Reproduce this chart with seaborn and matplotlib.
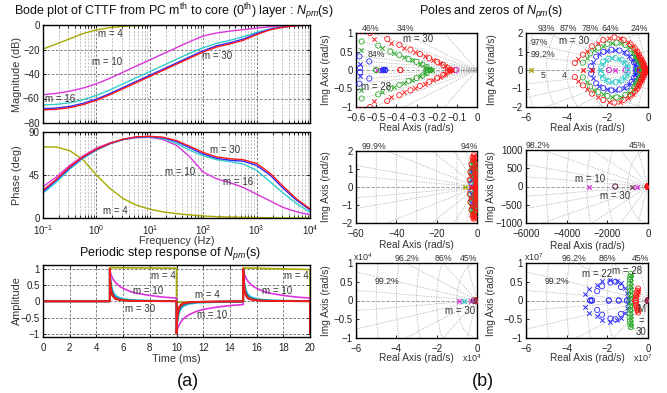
import numpy as np
import pandas as pd
import matplotlib
matplotlib.use("Agg")
import matplotlib.pyplot as plt
import seaborn as sns
from matplotlib.ticker import LogLocator, NullFormatter

# ---------------- data: Bode plot ----------------
freq_hz = [0.1, 0.178, 0.316, 0.562, 1, 1.78, 3.16, 5.62, 10, 17.8, 31.6, 56.2,
           100, 178, 316, 562, 1000, 1780, 3160, 5620, 10000]
mag_m4 = [-19.6, -15.5, -11.3, -7.0, -4.0, -2.2, -1.1, -0.5, -0.2, -0.1, 0, 0,
          0, 0, 0, 0, 0, 0, 0, 0, 0]
mag_m10 = [-56.9, -55.8, -54.0, -51.5, -48.0, -43.5, -38.5, -33.5, -28.5, -23.5, -18.5,
           -13.5, -9.0, -6.5, -5.0, -3.8, -2.5, -1.5, -0.8, -0.3, 0]
mag_m16 = [-65.3, -64.8, -63.5, -61.0, -57.5, -53.0, -48.0, -43.0, -38.0, -33.0, -28.0,
           -23.0, -18.5, -15.0, -12.5, -9.5, -6.0, -3.2, -1.5, -0.5, 0]
mag_m22 = [-68.3, -67.8, -66.5, -64.0, -60.5, -56.0, -51.0, -46.0, -41.0, -36.0, -31.0,
           -26.0, -21.0, -17.0, -14.5, -11.5, -7.0, -3.6, -1.6, -0.5, 0]
mag_m30 = [-69.3, -68.8, -67.5, -65.0, -61.5, -57.0, -52.0, -47.0, -42.0, -37.0, -32.0,
           -27.0, -22.0, -18.0, -15.5, -12.5, -7.8, -4.0, -1.8, -0.6, 0]
ph_m4 = [74.4, 74.3, 70.5, 61.0, 45.0, 31.0, 20.4, 13.4, 9.2, 6.3, 4.6, 3.2,
         2.1, 1.4, 1.0, 0.7, 0.4, 0.2, 0.1, 0.05, 0]
ph_m10 = [32.7, 43.0, 55.0, 65.0, 73.0, 78.5, 82.0, 84.0, 84.5, 82.0, 76.0, 64.0,
          48.0, 41.0, 37.0, 32.0, 25.0, 18.0, 11.0, 6.5, 3.5]
ph_m16 = [26.0, 37.5, 51.0, 62.5, 71.0, 77.5, 82.0, 84.5, 85.0, 83.0, 78.0, 71.0,
          65.0, 61.0, 59.0, 56.5, 50.0, 38.0, 26.0, 15.0, 6.0]
ph_m22 = [27.5, 39.5, 52.5, 63.5, 71.5, 77.8, 82.3, 84.8, 85.3, 84.0, 80.0, 73.5,
          67.0, 62.5, 60.5, 59.5, 55.0, 45.0, 31.0, 18.5, 8.5]
ph_m30 = [29.0, 40.5, 53.5, 64.0, 72.0, 78.0, 82.5, 85.0, 85.5, 84.5, 81.0, 75.0,
          68.5, 64.0, 62.0, 61.0, 57.0, 47.0, 33.0, 20.0, 9.5]

# ---------------- data: periodic step response ----------------
step_times_ms = [5, 10, 15]
step_signs = [1, -1, 1]
decay_offsets_ms = [0, 0.05, 0.1, 0.2, 0.35, 0.5, 0.75, 1, 1.5, 2, 3, 4, 5]
decay_m10 = [1, 0.9, 0.82, 0.72, 0.62, 0.55, 0.46, 0.4, 0.31, 0.25, 0.18, 0.13, 0.1]
decay_m16 = [1, 0.75, 0.55, 0.35, 0.22, 0.16, 0.11, 0.08, 0.05, 0.04, 0.025, 0.015, 0.01]
decay_m22 = [1, 0.65, 0.45, 0.27, 0.16, 0.11, 0.07, 0.05, 0.03, 0.02, 0.012, 0.008, 0.005]
decay_m28 = [1, 0.6, 0.4, 0.23, 0.13, 0.09, 0.06, 0.04, 0.025, 0.015, 0.01, 0.005, 0.003]
decay_m30 = [1, 0.55, 0.35, 0.2, 0.11, 0.07, 0.045, 0.03, 0.02, 0.012, 0.006, 0.003, 0.002]
decay_m29 = [1, 0.5, 0.3, 0.17, 0.09, 0.06, 0.04, 0.025, 0.015, 0.01, 0.005, 0.002, 0.001]
olive_t_ms = [0, 5, 5, 10, 10, 15, 15, 20, 20]
olive_amp = [0, 0, 1.04, 1.02, -0.03, -0.02, 1.03, 0.98, 0]

# ---------------- data: poles (x) and zeros (o), upper half-plane ----------------
red_zero_re = [-0.53, -0.445, -0.385, -0.33, -0.283, -0.237, -0.197, -0.167, -0.145, -0.38, -0.13,
               -3.6, -3.2, -2.75, -2.2, -1.65, -1.2, -0.85, -0.65,
               -0.62e7, -0.6e7, -0.58e7, -0.55e7, -0.52e7, -0.49e7]
red_zero_im = [1.0, 0.84, 0.68, 0.55, 0.43, 0.32, 0.22, 0.13, 0.05, 0, 0,
               0.38, 0.83, 1.28, 1.62, 1.76, 1.62, 1.38, 1.17,
               0.0, 0.06e7, 0.13e7, 0.2e7, 0.26e7, 0.32e7]
red_pole_re = [-0.51, -0.425, -0.36, -0.305, -0.26, -0.22, -0.185, -0.16, -0.14, -0.135, -0.125,
               -3.45, -3.0, -2.45, -1.9, -1.4, -1.0, -0.72, -0.58, -3.2, -2.75,
               -0.57e7, -0.54e7, -0.51e7, -0.48e7]
red_pole_im = [0.84, 0.74, 0.6, 0.48, 0.37, 0.27, 0.18, 0.1, 0.03, 0, 0,
               0.6, 1.05, 1.48, 1.72, 1.72, 1.5, 1.28, 1.05, 0, 0,
               0.1e7, 0.17e7, 0.23e7, 0.29e7]
green_zero_re = [-0.572, -0.49, -0.43, -0.385, -0.34, -0.3, -0.27, -0.25, -0.23, -0.245, -0.5,
                 -3.2, -2.85, -2.45, -2.0, -1.55, -1.12, -0.82, -0.66,
                 -0.86e7, -0.87e7, -0.88e7, -0.9e7, -0.9e7, -0.89e7, -0.87e7, -0.85e7]
green_zero_im = [0.77, 0.66, 0.5, 0.4, 0.3, 0.22, 0.15, 0.08, 0, 0, 0,
                 0.4, 0.9, 1.2, 1.4, 1.48, 1.35, 1.12, 0.9,
                 0.05e7, 0.15e7, 0.25e7, 0.35e7, 0.45e7, 0.55e7, 0.63e7, 0.71e7]
green_pole_re = [-0.577, -0.47, -0.41, -0.36, -0.32, -0.285, -0.26, -0.225, -0.24,
                 -3.0, -2.65, -2.22, -1.78, -1.32, -0.95, -0.72, -0.63,
                 -0.82e7, -0.83e7, -0.84e7, -0.85e7, -0.85e7, -0.84e7, -0.82e7]
green_pole_im = [0.53, 0.6, 0.46, 0.35, 0.26, 0.17, 0.09, 0, 0,
                 0.65, 1.06, 1.32, 1.46, 1.44, 1.25, 1.0, 0.78,
                 0.1e7, 0.2e7, 0.3e7, 0.4e7, 0.5e7, 0.6e7, 0.68e7]
blue_zero_re = [-0.583, -0.534, -0.58, -0.465, -0.455,
                -2.8, -2.55, -2.2, -1.8, -1.4, -1.05, -0.8, -0.68,
                -2.84e7, -2.75e7, -1.93e7, -1.44e7, -1.03e7, -2.26e7, -1.85e7, -1.6e7, -1.33e7, -2.5e7]
blue_zero_im = [0.37, 0.23, 0.06, 0, 0,
                0.2, 0.72, 0.98, 1.1, 1.05, 0.9, 0.65, 0.4,
                0, 0, 0, 0, 0, 0.38e7, 0.48e7, 0.5e7, 0.36e7, 0.25e7]
blue_pole_re = [-0.58, -0.47, -0.46,
                -2.7, -2.4, -2.0, -1.6, -1.2, -0.92, -0.72, -0.63, -2.75,
                -3.11e7, -2.9e7, -2.51e7, -2.26e7, -1.85e7, -1.52e7, -1.31e7, -1.11e7, -1.03e7, -1.0e7]
blue_pole_im = [0.17, 0, 0,
                0.45, 0.87, 1.05, 1.1, 0.98, 0.78, 0.52, 0.25, 0,
                0.18e7, 0.32e7, 0.42e7, 0.51e7, 0.56e7, 0.53e7, 0.47e7, 0.33e7, 0.2e7, 0.07e7]
cyan_zero_re = [-2.3, -2.2, -1.95, -1.6, -1.3, -1.1, -1.0]
cyan_zero_im = [0.2, 0.45, 0.6, 0.65, 0.55, 0.35, 0.12]
cyan_pole_re = [-2.25, -2.05, -1.75, -1.45, -1.2, -1.05, -2.35, -6600]
cyan_pole_im = [0.32, 0.55, 0.63, 0.62, 0.45, 0.22, 0, 0]
magenta_zero_re = [-0.105, -1.92, -1.1]
magenta_zero_im = [0, 0, 0]
magenta_pole_re = [-0.495, -1.6, -2893, -542, -9100]
magenta_pole_im = [0, 0, 0, 0, 0]
olive_pole_re = [-5.75]
olive_pole_im = [0]
dark_zero_re = [-1611]
dark_zero_im = [0]
dark_pole_re = [-789]
dark_pole_im = [0]

# ---------------- styling ----------------
sns.set_theme(style="ticks")
plt.rcParams["font.family"] = ["Liberation Sans", "DejaVu Sans"]
plt.rcParams["mathtext.fontset"] = "custom"
plt.rcParams["mathtext.rm"] = "Liberation Sans"
plt.rcParams["mathtext.it"] = "Liberation Sans:italic"
plt.rcParams["axes.unicode_minus"] = True

C_OLIVE = "#a8a800"
C_MAG = "#dd33dd"
C_CYAN = "#33cccc"
C_BLUE = "#2b2bff"
C_GREEN = "#2ea82e"
C_RED = "#ff1a1a"
C_DRED = "#a01010"
C_DARK = "#7a3a62"
TXT = "#333333"
TICK_FS = 7
LAB_FS = 7.8

W, H = 667, 393
fig = plt.figure(figsize=(W / 100, H / 100), dpi=100)


def rect(l, t, r, b):
    return [l / W, 1 - b / H, (r - l) / W, (b - t) / H]


def frame(ax, ls=TICK_FS):
    for s in ax.spines.values():
        s.set_linewidth(1.0)
        s.set_color("black")
    ax.tick_params(which="both", direction="in", length=2.5, width=0.6, labelsize=ls,
                   pad=2.5, top=True, right=True, colors="black", labelcolor="#222222")
    ax.tick_params(axis="x", which="both", pad=4)


GRID_MAJ = dict(ls=(0, (3, 2)), color="#6a6a6a", lw=0.6)
GRID_MIN = dict(ls=(0, (3, 2)), color="#a8a8a8", lw=0.5)

order = ["m4", "m10", "m16", "m22", "m30"]
pal = {"m4": C_OLIVE, "m10": C_MAG, "m16": C_CYAN, "m22": C_BLUE, "m30": C_RED}

mag_df = pd.concat([pd.DataFrame({"f": freq_hz, "v": v, "m": k}) for k, v in
                    zip(order, [mag_m4, mag_m10, mag_m16, mag_m22, mag_m30])])
ph_df = pd.concat([pd.DataFrame({"f": freq_hz, "v": v, "m": k}) for k, v in
                   zip(order, [ph_m4, ph_m10, ph_m16, ph_m22, ph_m30])])

# ---- magnitude ----
ax_mag = fig.add_axes(rect(43, 25, 310, 123))
sns.lineplot(data=mag_df, x="f", y="v", hue="m", hue_order=order, palette=pal,
             estimator=None, sort=False, legend=False, lw=1.0, ax=ax_mag)
ax_mag.set_xscale("log")
ax_mag.set_xlim(0.1, 1e4)
ax_mag.set_ylim(-80, 0)
ax_mag.set_yticks([-80, -60, -40, -20, 0])
ax_mag.xaxis.set_minor_locator(LogLocator(subs=np.arange(2, 10)))
ax_mag.xaxis.set_major_formatter(NullFormatter())
ax_mag.xaxis.set_minor_formatter(NullFormatter())
ax_mag.grid(which="major", **GRID_MAJ)
ax_mag.grid(which="minor", axis="x", **GRID_MIN)
ax_mag.set_xlabel("")
ax_mag.set_ylabel("Magnitude (dB)", fontsize=LAB_FS, color=TXT)
ax_mag.yaxis.set_label_coords(-0.08, 0.5)
frame(ax_mag)
for txt, x, y in [("m = 4", 1.8, -7.3), ("m = 10", 1.57, -30.5),
                  ("m = 16", 0.21, -60.4), ("m = 30", 178, -25)]:
    ax_mag.text(x, y, txt, fontsize=7, color=TXT, ha="center", va="center")

# ---- phase ----
ax_ph = fig.add_axes(rect(43, 132, 310, 218))
sns.lineplot(data=ph_df, x="f", y="v", hue="m", hue_order=order, palette=pal,
             estimator=None, sort=False, legend=False, lw=1.0, ax=ax_ph)
ax_ph.set_xscale("log")
ax_ph.set_xlim(0.1, 1e4)
ax_ph.set_ylim(0, 90)
ax_ph.set_yticks([0, 45, 90])
ax_ph.xaxis.set_minor_locator(LogLocator(subs=np.arange(2, 10)))
ax_ph.xaxis.set_minor_formatter(NullFormatter())
ax_ph.grid(which="major", **GRID_MAJ)
ax_ph.grid(which="minor", axis="x", **GRID_MIN)
ax_ph.set_ylabel("Phase (deg)", fontsize=LAB_FS, color=TXT)
ax_ph.yaxis.set_label_coords(-0.08, 0.5)
ax_ph.set_xlabel("Frequency (Hz)", fontsize=LAB_FS, color=TXT)
ax_ph.xaxis.set_label_coords(0.5, -0.21)
frame(ax_ph)
for txt, x, y in [("m = 30", 257, 71.5), ("m = 10", 37, 48.6),
                  ("m = 16", 457, 37.3), ("m = 4", 2.25, 7)]:
    ax_ph.text(x, y, txt, fontsize=7, color=TXT, ha="center", va="center")

# ---- periodic step response ----
def build_pulse(profile):
    t = [0.0, step_times_ms[0]]
    y = [0.0, 0.0]
    for start, sgn in zip(step_times_ms, step_signs):
        t += [start + o for o in decay_offsets_ms]
        y += [sgn * v for v in profile]
    t += [20.0]
    y += [-1.0]
    return t, y


step_frames = [pd.DataFrame({"t": olive_t_ms, "a": olive_amp, "m": "m4"})]
step_order = ["m4", "m10", "m16", "m22", "m28", "m29", "m30"]
step_pal = {"m4": C_OLIVE, "m10": C_MAG, "m16": C_CYAN, "m22": C_BLUE,
            "m28": C_GREEN, "m29": C_DRED, "m30": C_RED}
for k, prof in zip(step_order[1:], [decay_m10, decay_m16, decay_m22, decay_m28,
                                     decay_m29, decay_m30]):
    tt, yy = build_pulse(prof)
    step_frames.append(pd.DataFrame({"t": tt, "a": yy, "m": k}))
step_df = pd.concat(step_frames)

ax_st = fig.add_axes(rect(43, 265, 310, 337))
sns.lineplot(data=step_df, x="t", y="a", hue="m", hue_order=step_order, palette=step_pal,
             estimator=None, sort=False, legend=False, lw=1.2, ax=ax_st)
ax_st.set_xlim(0, 20)
ax_st.set_ylim(-1.1, 1.12)
ax_st.set_xticks(range(0, 21, 2))
ax_st.set_yticks([-1, -0.5, 0, 0.5, 1])
ax_st.set_yticklabels(["\u22121", "\u22120.5", "0", "0.5", "1"])
ax_st.grid(which="major", **GRID_MAJ)
ax_st.set_xlabel("Time (ms)", fontsize=LAB_FS, color=TXT)
ax_st.xaxis.set_label_coords(0.5, -0.23)
ax_st.set_ylabel("Amplitude", fontsize=LAB_FS, color=TXT)
ax_st.yaxis.set_label_coords(-0.08, 0.5)
frame(ax_st)
for txt, x, y in [("m = 4", 9.0, 0.77), ("m = 10", 7.9, 0.33), ("m = 30", 7.3, -0.23),
                  ("m = 4", 12.3, 0.18), ("m = 10", 12.7, -0.42),
                  ("m = 4", 19.0, 0.77), ("m = 10", 17.5, 0.33)]:
    ax_st.text(x, y, txt, fontsize=7, color=TXT, ha="center", va="center")

# ---------------- pole-zero maps ----------------
pz_sets = [
    (C_OLIVE, [], [], olive_pole_re, olive_pole_im),
    (C_MAG, magenta_zero_re, magenta_zero_im, magenta_pole_re, magenta_pole_im),
    (C_CYAN, cyan_zero_re, cyan_zero_im, cyan_pole_re, cyan_pole_im),
    (C_BLUE, blue_zero_re, blue_zero_im, blue_pole_re, blue_pole_im),
    (C_GREEN, green_zero_re, green_zero_im, green_pole_re, green_pole_im),
    (C_RED, red_zero_re, red_zero_im, red_pole_re, red_pole_im),
    (C_DARK, dark_zero_re, dark_zero_im, dark_pole_re, dark_pole_im),
]


def conj(re, im):
    re = np.asarray(re, float)
    im = np.asarray(im, float)
    return np.concatenate([re, re]), np.concatenate([im, -im])


def sgrid(ax, zetas, wns, xmin, ymax):
    L = 50 * max(abs(xmin), ymax)
    for z in zetas:
        th = np.arccos(z)
        for sg in (1, -1):
            ax.plot([0, -L * np.cos(th)], [0, sg * L * np.sin(th)], color="#b4b4b4",
                    lw=0.6, ls=(0, (1.5, 1.5)), zorder=0.5)
    ang = np.linspace(np.pi / 2, 3 * np.pi / 2, 300)
    for w in wns:
        ax.plot(w * np.cos(ang), w * np.sin(ang), color="#b4b4b4", lw=0.6,
                ls=(0, (1.5, 1.5)), zorder=0.5)
    ax.axhline(0, color="#8c8c8c", lw=0.6, ls=(0, (4, 2)), zorder=0.6)


def pz_panel(box, xlim, ylim, xticks, xlabels, yticks, ylabels, zetas, wns, ylab_x, xlab_y):
    ax = fig.add_axes(rect(*box))
    sgrid(ax, zetas, wns, xlim[0], ylim[1])
    for col, zr, zi, pr, pi in pz_sets:
        if len(zr):
            x, y = conj(zr, zi)
            sns.scatterplot(x=x, y=y, ax=ax, marker="o", s=14, facecolor="none",
                            edgecolor=col, linewidth=0.6, zorder=3, legend=False)
        if len(pr):
            x, y = conj(pr, pi)
            sns.scatterplot(x=x, y=y, ax=ax, marker="x", s=10, color=col,
                            linewidth=0.7, zorder=3, legend=False)
    ax.set_xlim(*xlim)
    ax.set_ylim(*ylim)
    ax.set_xticks(xticks)
    ax.set_xticklabels(xlabels)
    ax.set_yticks(yticks)
    ax.set_yticklabels(ylabels)
    ax.set_xlabel("Real Axis (rad/s)", fontsize=7.3, color=TXT)
    ax.set_ylabel("Img Axis (rad/s)", fontsize=7.3, color=TXT)
    ax.yaxis.set_label_coords(ylab_x, 0.5)
    ax.xaxis.set_label_coords(0.5, xlab_y)
    frame(ax, TICK_FS)
    ax.tick_params(top=False, right=False)
    return ax


M = "\u2212"
ax1 = pz_panel((356, 33, 477, 107), (-0.6, 0), (-1, 1),
               [-0.6, -0.5, -0.4, -0.3, -0.2, -0.1, 0],
               [M + "0.6", M + "0.5", M + "0.4", M + "0.3", M + "0.2", M + "0.1", "0"],
               [-1, -0.5, 0, 0.5, 1], [M + "1", M + "0.5", "0", "0.5", "1"],
               [0.16, 0.34, 0.46, 0.6, 0.72, 0.84, 0.92, 0.98],
               [0.01, 0.02, 0.03, 0.04, 0.05, 0.06], -0.21, -0.22)
ax2 = pz_panel((526, 33, 648, 107), (-6, 0), (-2, 2), [-6, -4, -2, 0],
               [M + "6", M + "4", M + "2", "0"], [-2, -1, 0, 1, 2],
               [M + "2", M + "1", "0", "1", "2"],
               [0.24, 0.45, 0.64, 0.78, 0.87, 0.93, 0.97, 0.992],
               [1, 2, 3, 4, 5, 6], -0.24, -0.22)
ax3 = pz_panel((356, 151, 477, 223), (-60, 0), (-2, 2), [-60, -40, -20, 0],
               [M + "60", M + "40", M + "20", "0"], [-2, -1, 0, 1, 2],
               [M + "2", M + "1", "0", "1", "2"],
               [0.94, 0.985, 0.996, 0.999, 0.9998, 0.99995],
               [10, 20, 30, 40, 50, 60], -0.21, -0.24)
ax4 = pz_panel((526, 150, 648, 223), (-6000, 0), (-1000, 1000),
               [-6000, -4000, -2000, 0], [M + "6000", M + "4000", M + "2000", "0"],
               [-1000, -500, 0, 500, 1000], [M + "1000", M + "500", "0", "500", "1000"],
               [0.45, 0.8, 0.94, 0.982, 0.995, 0.999],
               [1000, 2000, 3000, 4000, 5000, 6000], -0.25, -0.24)
ax5 = pz_panel((356, 263, 477, 338), (-6e4, 0), (-1e4, 1e4),
               [-6e4, -4e4, -2e4, 0], [M + "6", M + "4", M + "2", "0"],
               [-1e4, -0.5e4, 0, 0.5e4, 1e4], [M + "1", M + "0.5", "0", "0.5", "1"],
               [0.45, 0.86, 0.962, 0.992, 0.999],
               [1e4, 2e4, 3e4, 4e4, 5e4, 6e4], -0.21, -0.2)
ax6 = pz_panel((526, 263, 648, 338), (-6e7, 0), (-1e7, 1e7),
               [-6e7, -4e7, -2e7, 0], [M + "6", M + "4", M + "2", "0"],
               [-1e7, -0.5e7, 0, 0.5e7, 1e7], [M + "1", M + "0.5", "0", "0.5", "1"],
               [0.45, 0.86, 0.962, 0.992, 0.999],
               [1e7, 2e7, 3e7, 4e7, 5e7, 6e7], -0.25, -0.2)

PCT = 6.3


def top_labels(ax, items):
    for txt, x in items:
        ax.text(x, ax.get_ylim()[1], txt, fontsize=PCT, color=TXT, ha="center", va="bottom")


def in_labels(ax, items, fs=PCT):
    for txt, x, y in items:
        ax.text(x, y, txt, fontsize=fs, color=TXT, ha="center", va="center")


top_labels(ax1, [("46%", -0.53), ("34%", -0.356)])
in_labels(ax1, [("84%", -0.5, 0.41)])
in_labels(ax1, [("m = 30", -0.29, 0.84), ("m = 28", -0.5, -0.46)], 7)
top_labels(ax2, [("93%", -5.02), ("87%", -3.9), ("78%", -2.85), ("64%", -1.85), ("24%", -0.45)])
in_labels(ax2, [("97%", -5.35, 1.46), ("99.2%", -5.15, 0.83), ("5", -5.14, -0.31),
                ("4", -4.12, -0.31)])
in_labels(ax2, [("m = 30", -3.63, 1.55)], 7)
top_labels(ax3, [("99.9%", -50.9), ("94%", -3.6)])
top_labels(ax4, [("98.2%", -5390), ("45%", -540)])
in_labels(ax4, [("m = 10", -2844, 200), ("m = 30", -1611, -255)], 7)
top_labels(ax5, [("96.2%", -3.48e4), ("86%", -1.66e4), ("45%", -0.4e4)])
in_labels(ax5, [("99.2%", -4.46e4, 0.5e4)])
in_labels(ax5, [("m = 30", -0.86e4, -0.27e4)], 7)
top_labels(ax6, [("96.2%", -3.66e7), ("86%", -2.02e7), ("45%", -0.38e7)])
in_labels(ax6, [("99.2%", -4.48e7, 0.51e7)])
in_labels(ax6, [("m = 22", -2.51e7, 0.72e7), ("m = 28", -1.03e7, 0.78e7),
                ("M\n=\n30", -0.34e7, -0.54e7)], 7)

# scale annotations
for x, y, s in [(363, 257, "x10$^4$"), (472, 358, "x10$^4$"),
                (534, 257, "x10$^7$"), (643, 358, "x10$^7$")]:
    fig.text(x / W, 1 - y / H, s, fontsize=6.5, color=TXT, ha="center", va="center")

# titles and panel tags
fig.text(174 / W, 1 - 12 / H,
         r"Bode plot of CTTF from PC m$^{\mathrm{th}}$ to core (0$^{\mathrm{th}}$) layer : $N_{pm}$(s)",
         fontsize=9, color="#111111", ha="center", va="center")
fig.text(170 / W, 1 - 254 / H, r"Periodic step response of $N_{pm}$(s)",
         fontsize=9, color="#111111", ha="center", va="center")
fig.text(491 / W, 1 - 12 / H, r"Poles and zeros of $N_{pm}$(s)",
         fontsize=9, color="#111111", ha="center", va="center")
fig.text(188 / W, 1 - 381 / H, "(a)", fontsize=13, color="#111111", ha="center", va="center")
fig.text(483 / W, 1 - 381 / H, "(b)", fontsize=13, color="#111111", ha="center", va="center")

fig.savefig("out.png", dpi=100, facecolor="white")
